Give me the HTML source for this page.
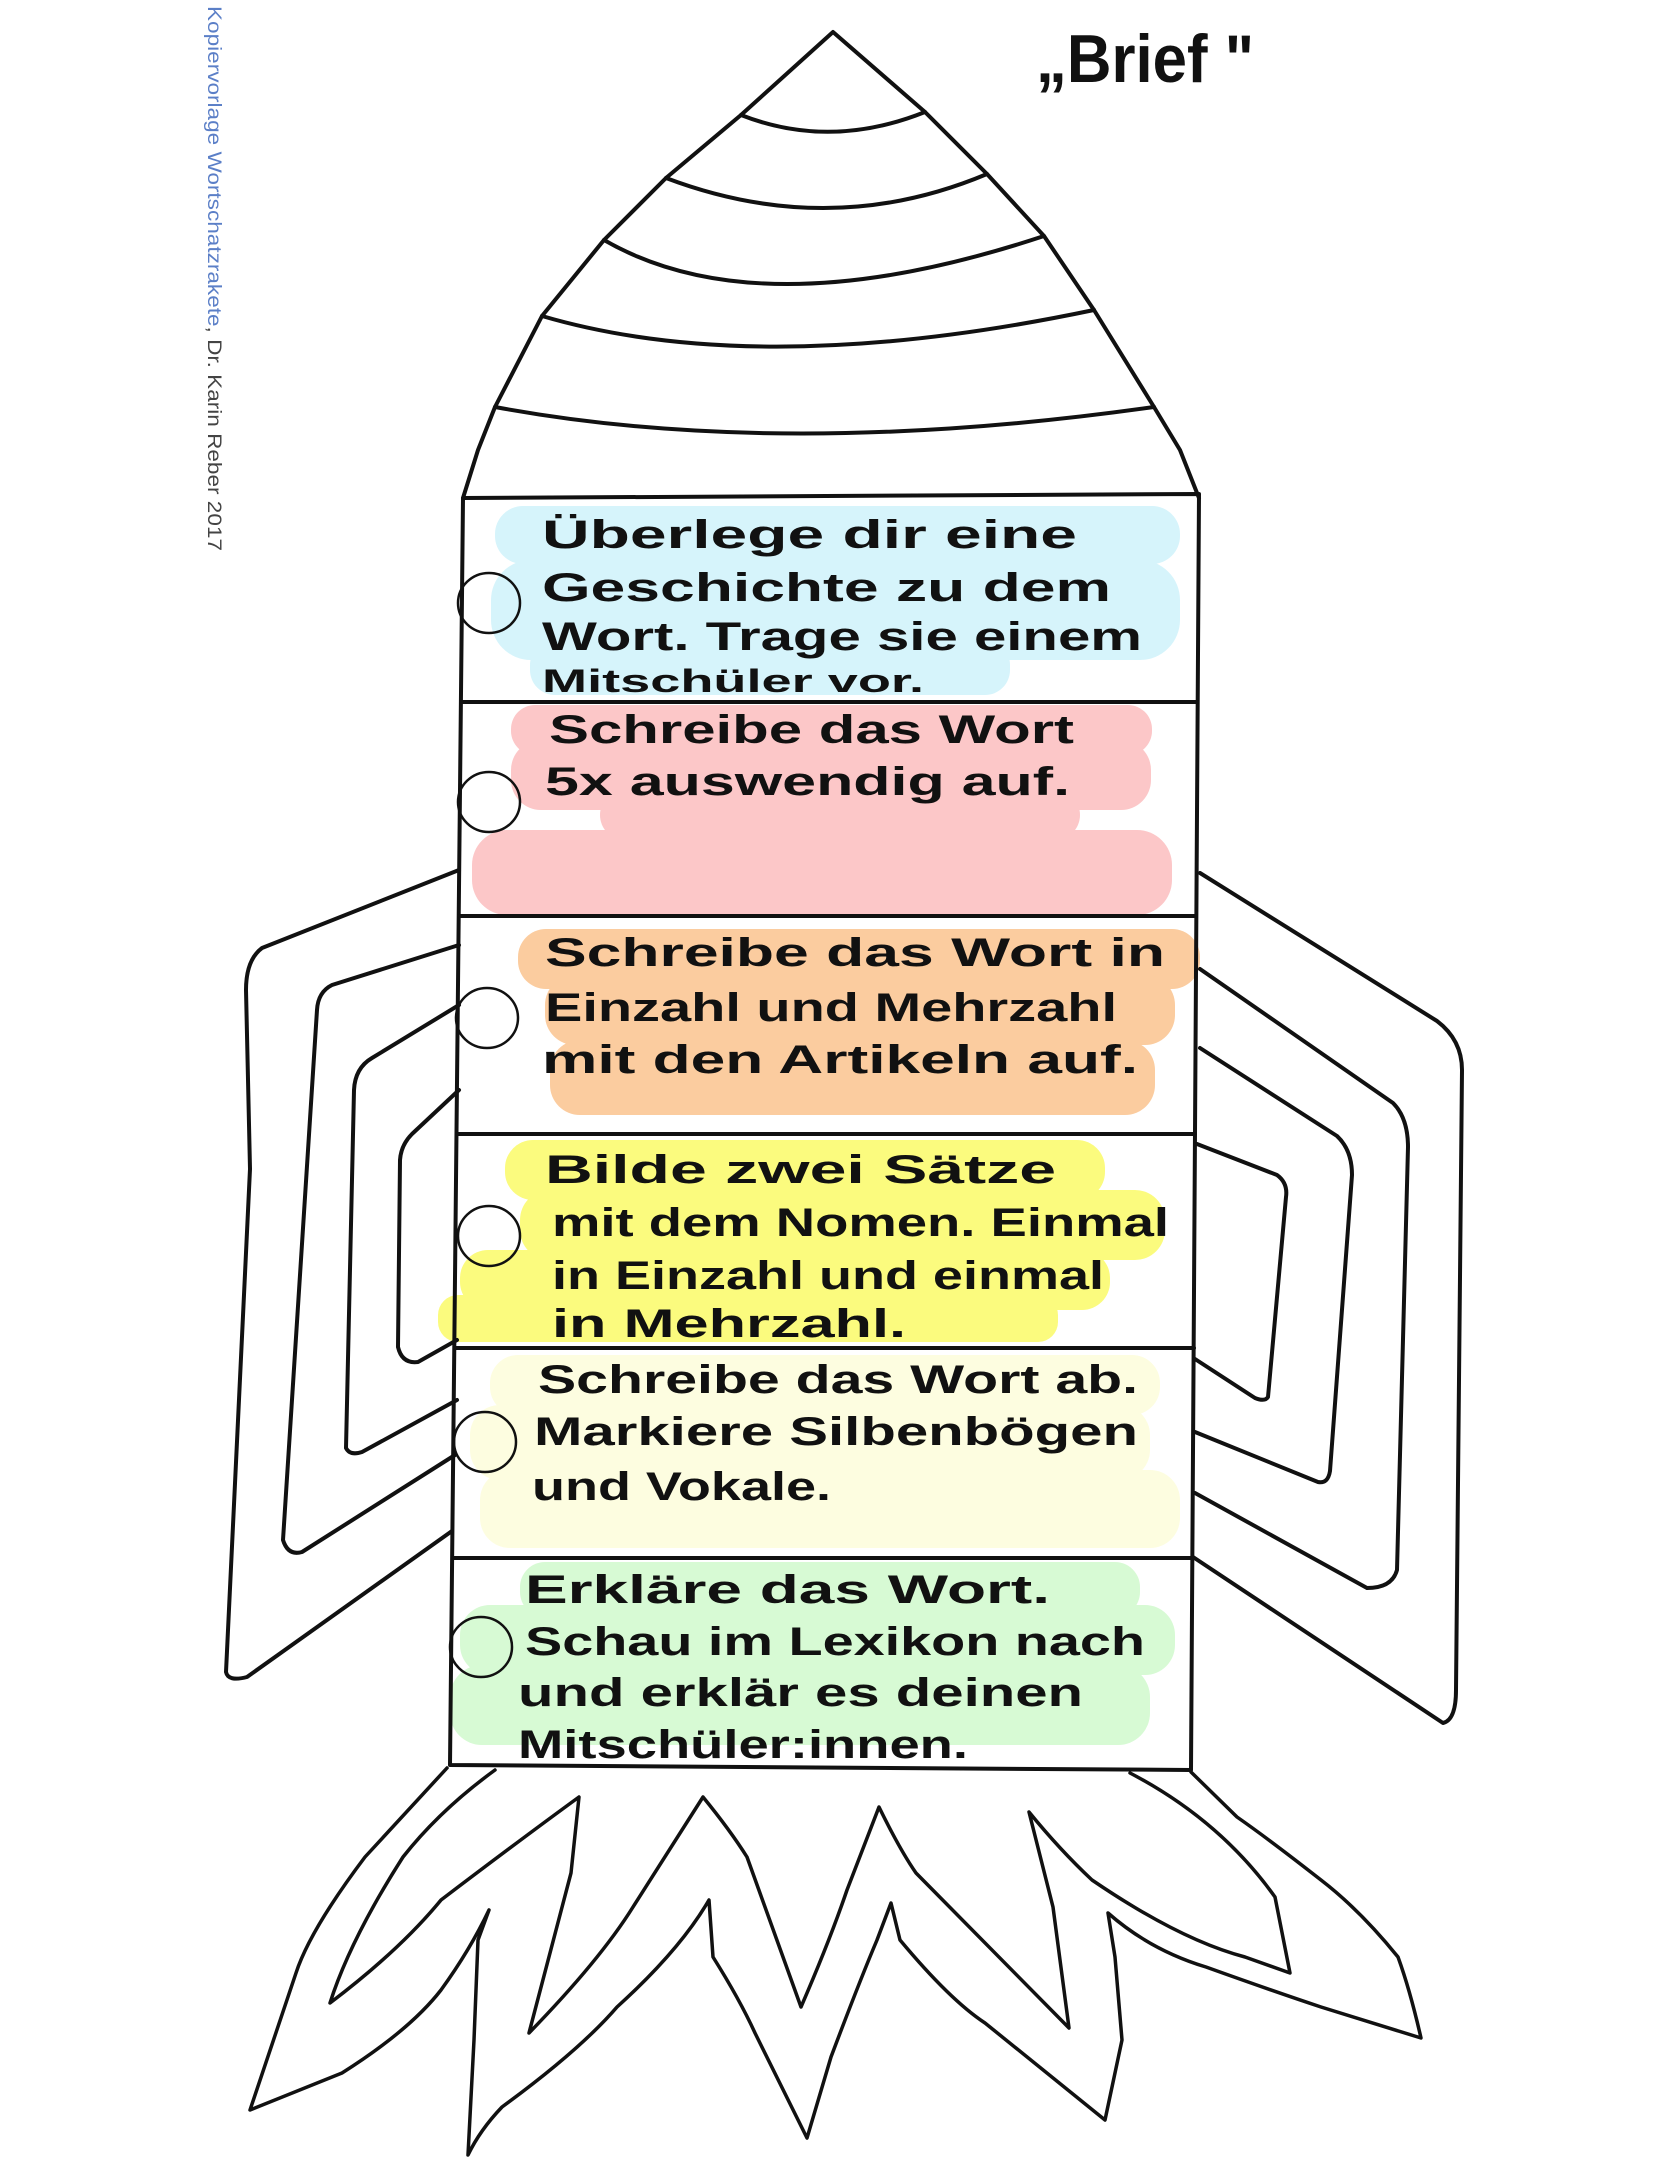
<!DOCTYPE html>
<html><head><meta charset="utf-8"><style>
html,body{margin:0;padding:0;background:#fff;}
svg{display:block;}
.h{font-family:"Liberation Sans",sans-serif;font-weight:bold;fill:#111;}
</style></head><body>
<svg width="1668" height="2157" viewBox="0 0 1668 2157" xmlns="http://www.w3.org/2000/svg">
<g>
<rect x="495" y="506" width="685" height="58" rx="28" fill="#d6f4fb"/>
<rect x="491" y="560" width="689" height="100" rx="40" fill="#d6f4fb"/>
<rect x="530" y="640" width="480" height="55" rx="25" fill="#d6f4fb"/>
<rect x="511" y="705" width="641" height="50" rx="24" fill="#fcc7c8"/>
<rect x="511" y="740" width="640" height="70" rx="30" fill="#fcc7c8"/>
<rect x="600" y="790" width="480" height="50" rx="25" fill="#fcc7c8"/>
<rect x="472" y="830" width="700" height="85" rx="35" fill="#fcc7c8"/>
<rect x="518" y="929" width="682" height="60" rx="28" fill="#fbcc9f"/>
<rect x="545" y="975" width="630" height="70" rx="30" fill="#fbcc9f"/>
<rect x="550" y="1040" width="605" height="75" rx="30" fill="#fbcc9f"/>
<rect x="505" y="1140" width="600" height="60" rx="28" fill="#fbfb7e"/>
<rect x="520" y="1190" width="645" height="70" rx="30" fill="#fbfb7e"/>
<rect x="460" y="1250" width="650" height="60" rx="28" fill="#fbfb7e"/>
<rect x="438" y="1295" width="620" height="47" rx="20" fill="#fbfb7e"/>
<rect x="490" y="1355" width="670" height="60" rx="28" fill="#fdfde0"/>
<rect x="470" y="1405" width="680" height="75" rx="30" fill="#fdfde0"/>
<rect x="480" y="1470" width="700" height="78" rx="30" fill="#fdfde0"/>
<rect x="520" y="1562" width="620" height="55" rx="25" fill="#d7fad4"/>
<rect x="460" y="1605" width="715" height="70" rx="30" fill="#d7fad4"/>
<rect x="450" y="1665" width="700" height="80" rx="32" fill="#d7fad4"/>
</g>
<g fill="none" stroke="#111" stroke-width="4" stroke-linejoin="round" stroke-linecap="round">
<path d="M463,498 L478,450 L495,407 L542,316 L604,240 L666,178 L741,115 L833,32 L925,112 L987,174 L1044,236 L1094,310 L1154,407 L1180,450 L1199,498"/>
<path d="M741,115 Q830,150 925,112"/>
<path d="M666,178 Q830,240 987,174"/>
<path d="M604,240 Q760,330 1044,236"/>
<path d="M542,316 Q760,380 1094,310"/>
<path d="M495,407 Q780,460 1154,407"/>
<path d="M463,498 L1199,494 L1191,1770 L450,1765 Z"/>
<path d="M461,702 L1197,702"/><path d="M459,916 L1196,916"/><path d="M457,1134 L1195,1134"/>
<path d="M455,1348 L1194,1348"/><path d="M453,1558 L1193,1558"/>
<path d="M459,870 L262,948 Q246,960 246,990 L250,1169 L226,1672 Q228,1682 247,1677 L452,1531"/>
<path d="M459,945 L332,985 Q318,992 317,1010 L283,1540 Q288,1556 302,1552 L455,1455"/>
<path d="M459,1005 L372,1058 Q355,1068 354,1090 L346,1448 Q350,1456 362,1452 L457,1400"/>
<path d="M459,1090 L412,1134 Q401,1145 400,1160 L398,1347 Q402,1364 418,1362 L457,1340"/>
<path d="M1200,873 L1437,1021 Q1462,1040 1462,1070 L1456,1690 Q1456,1720 1443,1723 L1193,1557"/>
<path d="M1200,969 L1393,1103 Q1408,1118 1408,1147 L1397,1570 Q1392,1588 1367,1588 L1195,1493"/>
<path d="M1200,1048 L1337,1136 Q1352,1150 1352,1175 L1330,1471 Q1328,1484 1318,1482 L1195,1432"/>
<path d="M1197,1144 L1277,1175 Q1288,1183 1286,1197 L1268,1397 Q1265,1402 1255,1398 L1195,1359"/>
<path d="M447,1768 Q390,1830 365,1857 Q310,1930 296,1973 L250,2110 Q300,2090 342,2073 Q410,2030 441,1990 Q470,1950 489,1910 L478,1940 L474,2040 L468,2155 Q480,2130 502,2107 Q580,2050 617,2007 Q680,1950 709,1900 L713,1957 Q740,2000 755,2033 L807,2138 L831,2057 Q860,1980 877,1940 L891,1903 L900,1940 Q950,2000 985,2023 L1105,2120 L1122,2040 L1115,1957 L1108,1913 Q1150,1950 1206,1967 Q1270,1990 1321,2007 L1421,2038 Q1410,1990 1398,1957 Q1360,1910 1321,1880 Q1270,1840 1237,1817 L1191,1772" stroke-width="3.5"/>
<path d="M495,1770 Q440,1810 403,1857 Q350,1940 330,2003 Q400,1950 441,1900 Q520,1840 579,1797 L571,1873 L529,2033 Q600,1960 633,1907 L703,1797 Q730,1830 747,1857 L801,2007 Q830,1940 847,1890 L879,1807 Q900,1850 916,1873 L1069,2028 L1053,1907 L1029,1812 Q1060,1850 1092,1880 Q1180,1940 1245,1957 L1290,1973 L1275,1897 Q1220,1820 1130,1773" stroke-width="3.5"/>
</g>
<g fill="none" stroke="#111" stroke-width="2.5">
<ellipse cx="489" cy="603" rx="31" ry="30"/>
<ellipse cx="489" cy="802" rx="31" ry="30"/>
<ellipse cx="487" cy="1018" rx="31" ry="30"/>
<ellipse cx="489" cy="1236" rx="31" ry="30"/>
<ellipse cx="485" cy="1442" rx="31" ry="30"/>
<ellipse cx="481" cy="1647" rx="31" ry="30"/>
</g>
<g class="h" font-size="40">
<text x="542" y="548" textLength="535" lengthAdjust="spacingAndGlyphs">Überlege  dir  eine</text>
<text x="542" y="601" textLength="569" lengthAdjust="spacingAndGlyphs">Geschichte  zu  dem</text>
<text x="542" y="650" textLength="600" lengthAdjust="spacingAndGlyphs">Wort. Trage sie einem</text>
<text x="542" y="692" font-size="32" textLength="382" lengthAdjust="spacingAndGlyphs">Mitschüler  vor.</text>
<text x="549" y="743" textLength="525" lengthAdjust="spacingAndGlyphs">Schreibe  das  Wort</text>
<text x="545" y="795" textLength="525" lengthAdjust="spacingAndGlyphs">5x  auswendig  auf.</text>
<text x="545" y="966" textLength="620" lengthAdjust="spacingAndGlyphs">Schreibe  das  Wort in</text>
<text x="545" y="1021" textLength="572" lengthAdjust="spacingAndGlyphs">Einzahl und Mehrzahl</text>
<text x="542" y="1073" textLength="596" lengthAdjust="spacingAndGlyphs">mit den Artikeln auf.</text>
<text x="545" y="1183" textLength="511" lengthAdjust="spacingAndGlyphs">Bilde  zwei  Sätze</text>
<text x="552" y="1236" textLength="617" lengthAdjust="spacingAndGlyphs">mit dem Nomen. Einmal</text>
<text x="552" y="1289" textLength="552" lengthAdjust="spacingAndGlyphs">in Einzahl und einmal</text>
<text x="552" y="1337" textLength="354" lengthAdjust="spacingAndGlyphs">in  Mehrzahl.</text>
<text x="538" y="1393" textLength="600" lengthAdjust="spacingAndGlyphs">Schreibe das Wort ab.</text>
<text x="534" y="1445" textLength="604" lengthAdjust="spacingAndGlyphs">Markiere  Silbenbögen</text>
<text x="532" y="1500" textLength="299" lengthAdjust="spacingAndGlyphs">und Vokale.</text>
<text x="525" y="1603" textLength="525" lengthAdjust="spacingAndGlyphs">Erkläre das Wort.</text>
<text x="525" y="1655" textLength="620" lengthAdjust="spacingAndGlyphs">Schau im Lexikon nach</text>
<text x="518" y="1706" textLength="565" lengthAdjust="spacingAndGlyphs">und erklär es deinen</text>
<text x="518" y="1758" textLength="450" lengthAdjust="spacingAndGlyphs">Mitschüler:innen.</text>
</g>
<text x="1036" y="82" font-family="Liberation Sans, sans-serif" font-weight="bold" font-size="68" fill="#111" textLength="218" lengthAdjust="spacingAndGlyphs">„Brief "</text>
<text transform="translate(208,6) rotate(90)" font-family="Liberation Sans, sans-serif" font-size="19" textLength="545" lengthAdjust="spacingAndGlyphs"><tspan fill="#5b7fc7">Kopiervorlage Wortschatzrakete</tspan><tspan fill="#444">, Dr. Karin Reber 2017</tspan></text>
</svg>
</body></html>
